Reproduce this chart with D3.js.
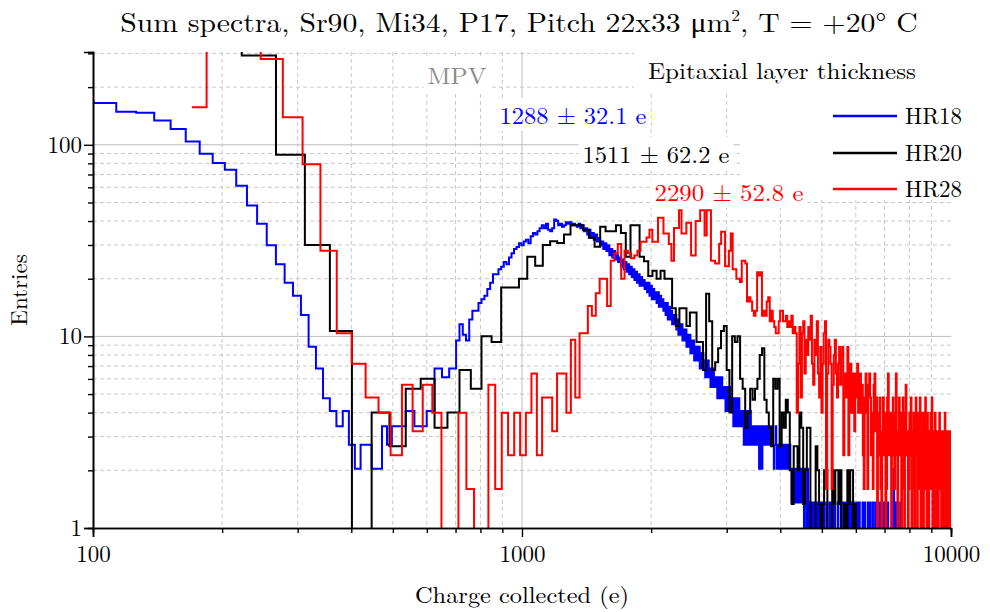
<!DOCTYPE html>
<html>
<head>
<meta charset="utf-8">
<script src="https://cdn.jsdelivr.net/npm/d3@7"></script>
<style>
  html, body { margin: 0; padding: 0; background: #fff; }
  svg { display: block; }
</style>
</head>
<body>
<div id="chart"></div>
<script>
// histogram bins: lower edge of first bin, bin width (e), raw entries, display scale
const blueStart = 87.7, blueWidth = 12.8, blueScale = 0.68
const blueCounts = [
  247, 243, 219, 216, 197, 178, 153, 132, 118, 109, 90, 71, 57, 44, 35, 28, 24, 19, 13, 10, 7, 6, 5, 6,
  4, 3, 4, 4, 3, 3, 5, 4, 5, 5, 5, 6, 6, 5, 5, 5, 6, 6, 10, 10, 9, 9, 10, 10,
  14, 17, 15, 14, 18, 20, 20, 22, 23, 24, 26, 28, 31, 31, 33, 34, 36, 35, 38, 40, 42, 43, 45, 44,
  46, 47, 45, 49, 51, 50, 52, 54, 56, 54, 57, 53, 52, 54, 60, 59, 56, 57, 55, 56, 58, 57, 58, 56, 57, 56, 55,
  57, 54, 56, 52, 54, 50, 53, 48, 51, 47, 50, 46,
  48, 44, 46, 42, 45, 41, 44, 39, 42, 38, 41, 37,
  39, 36, 38, 34, 37, 33, 36, 32, 35, 31, 34, 30,
  33, 29, 32, 28, 31, 27, 30, 27, 29, 26, 28, 25,
  28, 24, 27, 23, 26, 23, 25, 22, 25, 21, 24, 21,
  23, 20, 22, 19, 22, 18, 21, 18, 20, 17, 19, 17,
  19, 16, 18, 15, 17, 15, 17, 14, 16, 14, 16, 13,
  15, 13, 15, 12, 14, 12, 14, 11, 13, 11, 13, 11,
  13, 10, 12, 10, 12, 10, 11, 9, 11, 9, 11, 9,
  10, 8, 10, 8, 10, 8, 9, 8, 9, 7, 9, 7,
  9, 7, 9, 7, 8, 7, 8, 6, 8, 6, 8, 6,
  8, 6, 7, 6, 7, 5, 7, 5, 7, 5, 7, 5,
  7, 5, 6, 5, 6, 5, 6, 4, 6, 4, 6, 4,
  6, 4, 6, 4, 6, 4, 5, 4, 5, 4, 5, 4,
  5, 4, 5, 4, 5, 3, 5, 4, 5, 3, 5, 4,
  5, 4, 4, 5, 4, 4, 5, 4, 4, 5, 4, 4,
  4, 5, 4, 4, 3, 4, 4, 5, 4, 3, 4, 4,
  4, 3, 4, 4, 3, 4, 3, 4, 4, 3, 4, 3,
  3, 4, 3, 3, 4, 3, 3, 4, 3, 3, 2, 3,
  3, 3, 2, 3, 3, 2, 3, 3, 2, 3, 2, 3,
  2, 3, 2, 3, 2, 2, 3, 2, 2, 1, 2, 3,
  2, 2, 1, 2, 3, 1, 2, 2, 1, 2, 1, 2,
  1, 2, 1, 0, 1, 2, 1, 1, 0, 2, 1, 1,
  2, 1, 0, 1, 1, 2, 0, 1, 1, 0, 2, 1,
  0, 1, 2, 1, 0, 1, 1, 0, 2, 1, 0, 1,
  1, 0, 2, 1, 0, 1, 0, 1, 2, 0, 1, 0,
  1, 2, 0, 1, 0, 1, 1, 0, 2, 0, 1, 0,
  1, 0, 1, 2, 0, 1, 0, 0, 1, 2, 0, 1,
  0, 1, 0, 2, 0, 1, 0, 1, 0, 0, 2, 0,
  1, 0, 1, 0, 2, 0, 0, 1, 0, 1, 0, 2,
  0, 0, 1, 0, 1, 0, 2, 0, 0, 1, 0, 0,
  2, 0, 1, 0, 0, 1, 0, 0, 2, 0, 0, 1,
  0, 0, 2, 0, 1, 0, 0, 0, 1, 0, 2, 0,
  0, 1, 0, 0, 2, 0, 0, 0, 1, 0, 0, 2,
  0, 0, 0, 1, 0, 0, 2, 0, 0, 0, 1, 0,
  0, 2, 0, 0, 0, 0, 1, 0, 2, 0, 0, 0,
  0, 2, 0, 0, 1, 0, 0, 0, 2, 0, 0, 0,
  0, 0, 2, 0, 0, 0, 0, 2, 0, 0, 0, 0,
  0, 0, 0, 0, 0, 0, 0, 2, 0, 0, 0, 0,
  0, 3, 0, 0, 0, 0, 0, 0, 2, 0, 0, 0,
  0, 0, 0, 0, 0, 0, 0, 0, 0, 2, 0, 0
]

const blackStart = 132.6, blackWidth = 44.8, blackScale = 0.667
const blackCounts = [
  600, 600, 438, 133, 45, 16, 0, 6, 4, 8, 9, 5, 6, 10, 8, 15, 14, 27, 27, 30,
  39, 35, 45, 47, 46, 51, 57, 57, 54, 49, 44, 56, 53, 53, 57, 52, 39, 57, 57, 39,
  37, 31, 33, 30, 33, 30, 30, 21, 17, 21, 21, 17, 20, 20, 14, 14, 10, 25, 18, 10,
  11, 13, 16, 17, 10, 6, 15, 14, 15, 9, 8, 5, 6, 8, 7, 8, 9, 12, 13, 7,
  6, 5, 4, 9, 8, 9, 4, 6, 5, 7, 6, 3, 2, 4, 4, 3, 6, 5, 2, 3,
  5, 5, 1, 0, 1, 4, 3, 2, 1, 2, 3, 3, 0, 1, 0, 3, 2, 3, 3, 2,
  3, 1, 0, 2, 0, 3, 2, 3, 3, 1, 2, 0
]

const redStart = 153, redWidth = 31, redScale = 0.8, redFrom = 170
const redCounts = [
  196, 500, 500, 351, 174, 99, 35, 13, 9, 6, 5, 3, 7, 4, 7, 5, 0, 0, 5, 2,
  0, 0, 7, 2, 5, 3, 5, 3, 5, 8, 3, 6, 6, 4, 8, 8, 5, 12, 6,
  13, 13, 18, 16, 21, 25, 25, 18, 31, 34, 38, 25, 35, 34, 32, 33, 35, 39, 39, 41,
  45, 39, 39, 52, 52, 43, 43, 38, 31, 46, 46, 57, 43, 43, 49, 49, 33, 33, 50, 50,
  57, 57, 42, 57, 57, 31, 31, 30, 30, 38, 44, 44, 29, 29, 35, 43, 28, 28, 25, 25,
  24, 31, 31, 30, 19, 20, 19, 17, 16, 17, 27, 26, 27, 16, 17, 16, 19, 20, 15, 17,
  15, 14, 13, 13, 15, 17, 17, 15, 15, 16, 14, 15, 14, 16, 13, 14, 13,
  5, 9, 14, 6, 13, 15, 8, 12, 10, 14,
  12, 16, 9, 7, 12, 10, 15, 8,
  6, 11, 5, 9, 13, 15, 2, 8, 12,
  11, 9, 2, 7, 10, 12, 8, 6, 9, 11, 7, 10, 11, 3, 8, 6,
  8, 11, 3, 6, 9, 5, 8, 7, 4, 8, 6, 9, 5, 7,
  8, 5, 7, 3, 2, 6, 8, 5, 2, 7, 8, 6, 3, 5,
  2, 7, 8, 4, 6, 0, 5, 3, 6, 2, 0, 4, 6, 3, 5, 0, 2, 6, 8, 3, 4, 5, 0, 3, 6, 4, 2, 5, 8, 3, 0, 4, 6,
  3, 5, 0, 4, 6, 2, 0, 5, 7, 3, 4, 0, 2, 5, 3, 6, 0, 4, 2, 5, 0, 3, 6, 4,
  0, 5, 3, 2, 6, 0, 4, 3, 5, 0, 2, 4, 6, 3, 0, 5, 3, 0, 4, 2, 5, 3, 6, 0,
  4, 0, 3, 5, 2, 0, 4, 3, 0, 2, 5, 3, 4, 0, 3, 2, 4, 0, 3, 5, 0, 2, 4, 3, 0, 4, 2, 3, 0, 4
]

const seriesNames = ['HR18', 'HR20', 'HR28']
const seriesColors = ['#0000ff', '#000000', '#ff0000']
const mpvLabels = ['1288 ± 32.1 e', '1511 ± 62.2 e', '2290 ± 52.8 e']

const xMajor = [100, 1000, 10000]
const xMinor = [200, 300, 400, 500, 600, 700, 800, 900, 2000, 3000, 4000, 5000, 6000, 7000, 8000, 9000]
const yMajor = [1, 10, 100]
const yMinor = [2, 3, 4, 5, 6, 7, 8, 9, 20, 30, 40, 50, 60, 70, 80, 90, 200, 300]

const FONT = '"Latin Modern Roman", "CMU Serif", "Liberation Serif", "DejaVu Serif", serif'
const width = 990
const height = 612
const margin = { left: 93, right: 39, top: 52, bottom: 84 }
const innerRight = width - margin.right
const innerBottom = height - margin.bottom

const svg = d3.select('#chart')
  .append('svg')
  .attr('width', width)
  .attr('height', height)
  .attr('font-family', FONT)

const x = d3.scaleLog().domain([100, 10000]).range([margin.left, innerRight])
const y = d3.scaleLog().domain([1, 305]).range([innerBottom, margin.top])

// the serif fallback is narrower than the original font, so widen labels to their measured width
function stretchTo(sel, targetWidth, anchorX) {
  const w0 = sel.node().getBBox().width
  const sx = targetWidth / w0
  sel.attr('transform', `translate(${anchorX}, 0) scale(${sx}, 1) translate(${-anchorX}, 0)`)
  return sx
}

svg.append('defs')
  .append('clipPath')
  .attr('id', 'plot-clip')
  .append('rect')
  .attr('x', margin.left)
  .attr('y', margin.top)
  .attr('width', innerRight - margin.left)
  .attr('height', innerBottom - margin.top)

// grid
const grid = svg.append('g').attr('class', 'grid')
grid.selectAll('line.gx-minor')
  .data(xMinor)
  .enter()
  .append('line')
  .attr('class', 'gx-minor')
  .attr('x1', d => x(d)).attr('x2', d => x(d))
  .attr('y1', margin.top).attr('y2', innerBottom)
  .attr('stroke', '#c8c8c8')
  .attr('stroke-dasharray', '4,3')
grid.selectAll('line.gy-minor')
  .data(yMinor)
  .enter()
  .append('line')
  .attr('class', 'gy-minor')
  .attr('y1', d => y(d)).attr('y2', d => y(d))
  .attr('x1', margin.left).attr('x2', innerRight)
  .attr('stroke', '#c8c8c8')
  .attr('stroke-dasharray', '4,3')
grid.selectAll('line.gx-major')
  .data([1000])
  .enter()
  .append('line')
  .attr('x1', d => x(d)).attr('x2', d => x(d))
  .attr('y1', margin.top).attr('y2', innerBottom)
  .attr('stroke', '#bdbdbd')
grid.selectAll('line.gy-major')
  .data([10, 100])
  .enter()
  .append('line')
  .attr('y1', d => y(d)).attr('y2', d => y(d))
  .attr('x1', margin.left).attr('x2', innerRight)
  .attr('stroke', '#bdbdbd')

// white boxes of the labels hide the grid under them
const boxes = svg.append('g').attr('class', 'label-boxes')
function whiteBox(x0, y0, x1, y1) {
  boxes.append('rect')
    .attr('x', x0).attr('y', y0)
    .attr('width', x1 - x0).attr('height', y1 - y0)
    .attr('fill', '#ffffff')
}
whiteBox(634, margin.top, innerRight + 2, 93)
whiteBox(740, 93, innerRight + 2, 200)

// histograms
function histPoints(start, binWidth, counts, scale, from) {
  const pts = counts.map((c, i) => ({ q: start + i * binWidth, v: c * scale }))
  pts.push({ q: start + counts.length * binWidth, v: counts[counts.length - 1] * scale })
  if (from) pts[0].q = Math.max(pts[0].q, from)
  return pts
}

const series = [
  histPoints(blueStart, blueWidth, blueCounts, blueScale),
  histPoints(blackStart, blackWidth, blackCounts, blackScale),
  histPoints(redStart, redWidth, redCounts, redScale, redFrom)
]

const line = d3.line()
  .x(d => x(d.q))
  .y(d => d.v > 0 ? y(d.v) : innerBottom + 60)
  .curve(d3.curveStepAfter)

const mpvText = svg.append('g').attr('class', 'mpv-labels')

svg.append('g')
  .attr('clip-path', 'url(#plot-clip)')
  .selectAll('path.hist')
  .data(series)
  .enter()
  .append('path')
  .attr('class', 'hist')
  .attr('d', line)
  .attr('fill', 'none')
  .attr('stroke', (d, i) => seriesColors[i])
  .attr('stroke-width', 2)
  .attr('stroke-linejoin', 'miter')

// axes
const axisX = svg.append('g').attr('transform', `translate(0, ${innerBottom})`)
axisX.call(d3.axisBottom(x).tickValues(xMinor).tickSize(5).tickFormat(''))
axisX.append('g').call(d3.axisBottom(x).tickValues(xMajor).tickSize(9).tickPadding(9).tickFormat(d3.format('d')))
const axisY = svg.append('g').attr('transform', `translate(${margin.left}, 0)`)
axisY.call(d3.axisLeft(y).tickValues(yMinor).tickSize(5).tickFormat(''))
axisY.append('g').call(d3.axisLeft(y).tickValues(yMajor).tickSize(9).tickPadding(2).tickFormat(d3.format('d')))

svg.selectAll('.domain').attr('stroke', '#000').attr('stroke-width', 1.6)
svg.selectAll('.tick line').attr('stroke', '#000').attr('stroke-width', 1.4)
svg.selectAll('.tick text')
  .attr('font-family', FONT)
  .attr('font-size', 23)
  .attr('fill', '#000')

// titles
const title = svg.append('text')
  .attr('x', 519)
  .attr('y', 32)
  .attr('text-anchor', 'middle')
  .attr('font-size', 27)
title.append('tspan').text('Sum spectra, Sr90, Mi34, P17, Pitch 22x33 μm')
title.append('tspan').attr('dy', -11).attr('font-size', 16).text('2')
title.append('tspan').attr('dy', 11).text(', T = +20° C')
stretchTo(title, 798, 519)

const xTitle = svg.append('text')
  .attr('x', 522)
  .attr('y', 603)
  .attr('text-anchor', 'middle')
  .attr('font-size', 23)
  .text('Charge collected (e)')
stretchTo(xTitle, 214, 522)

svg.append('text')
  .attr('transform', 'translate(27, 290) rotate(-90)')
  .attr('text-anchor', 'middle')
  .attr('font-size', 23)
  .text('Entries')

// MPV annotations
const annot = [
  { text: 'MPV', x: 457, y: 84, w: 59, color: '#8c8c8c' },
  { text: mpvLabels[0], x: 573, y: 124, w: 147, color: seriesColors[0] },
  { text: mpvLabels[1], x: 656, y: 163, w: 147, color: seriesColors[1] },
  { text: mpvLabels[2], x: 729, y: 201, w: 149, color: seriesColors[2] }
]
annot.forEach(a => {
  const t = mpvText.append('text')
    .attr('x', a.x)
    .attr('y', a.y)
    .attr('text-anchor', 'middle')
    .attr('font-size', 23)
    .attr('fill', a.color)
    .text(a.text)
  const bb = t.node().getBBox()
  stretchTo(t, a.w, a.x)
  boxes.append('rect')
    .attr('x', a.x - a.w / 2 - 4).attr('y', bb.y)
    .attr('width', a.w + 8).attr('height', bb.height)
    .attr('fill', '#ffffff')
})

// legend
const legend = svg.append('g').attr('class', 'legend')
const legendTitle = legend.append('text')
  .attr('x', 648)
  .attr('y', 79)
  .attr('font-size', 23)
  .text('Epitaxial layer thickness')
stretchTo(legendTitle, 268, 648)
const legendRows = [116, 153, 189]
seriesNames.forEach((name, i) => {
  legend.append('line')
    .attr('x1', 833).attr('x2', 897)
    .attr('y1', legendRows[i]).attr('y2', legendRows[i])
    .attr('stroke', seriesColors[i])
    .attr('stroke-width', 2.5)
  const t = legend.append('text')
    .attr('x', 905)
    .attr('y', legendRows[i] + 8)
    .attr('font-size', 23)
    .text(name)
  stretchTo(t, 57, 905)
})
</script>
</body>
</html>
